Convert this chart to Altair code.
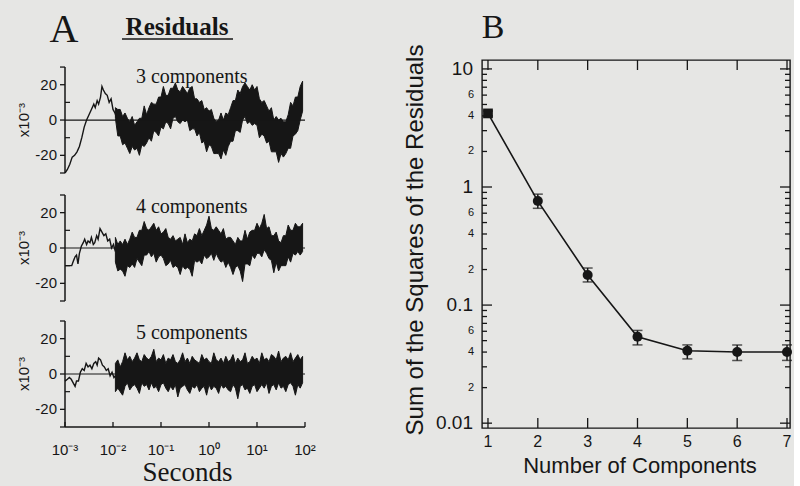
import altair as alt
import pandas as pd

INK = "#161616"
BG = "#e6e6e4"
SERIF = "Liberation Serif"
SANS = "Liberation Sans"

# ---------------- Panel A : residual traces ----------------
# x = log10(seconds), y = residual (x 10^-3)
LT_BAND = [-1.95, -1.9, -1.85, -1.8, -1.75, -1.7, -1.65, -1.6, -1.55, -1.5,
           -1.45, -1.4, -1.35, -1.3, -1.25, -1.2, -1.15, -1.1, -1.05, -1.0,
           -0.95, -0.9, -0.85, -0.8, -0.75, -0.7, -0.65, -0.6, -0.55, -0.5,
           -0.45, -0.4, -0.35, -0.3, -0.25, -0.2, -0.15, -0.1, -0.05, 0.0,
           0.05, 0.1, 0.15, 0.2, 0.25, 0.3, 0.35, 0.4, 0.45, 0.5,
           0.55, 0.6, 0.65, 0.7, 0.75, 0.8, 0.85, 0.9, 0.95, 1.0,
           1.05, 1.1, 1.15, 1.2, 1.25, 1.3, 1.35, 1.4, 1.45, 1.5,
           1.55, 1.6, 1.65, 1.7, 1.75, 1.8, 1.85, 1.9, 1.95]

# 3 components
LT_EARLY_3 = [-3.0, -2.95, -2.9, -2.85, -2.8, -2.75, -2.7, -2.65, -2.6, -2.55,
              -2.5, -2.45, -2.4, -2.37, -2.33, -2.3, -2.26, -2.23, -2.2, -2.16,
              -2.12, -2.08, -2.04, -2.0, -1.96, -1.92, -1.9]
Y_EARLY_3 = [-30, -28, -25, -21, -20, -18, -15, -10, -4, 0,
             3, 6, 9, 7, 11, 9, 13, 19, 17, 15,
             14, 10, 12, 6, 4, 1, -1]
HI_3 = [7, 6, 6, 2, 4, 1, -1, 2, -3, -1, 1,
        1, 8, 3, 7, 10, 9, 9, 13, 13, 19,
        14, 14, 18, 18, 21, 17, 16, 19, 17, 15,
        18, 19, 12, 12, 10, 11, 6, 7, 5, 6,
        1, -1, 0, 4, 0, 4, 3, 7, 11, 11,
        17, 15, 19, 21, 19, 17, 20, 17, 19, 12,
        10, 11, 8, 5, 7, 0, 2, 0, 1, -1,
        -1, 3, 10, 8, 13, 13, 19, 22]
LO_3 = [1, -9, -9, -14, -13, -16, -19, -15, -17, -16, -20,
        -14, -15, -13, -10, -12, -6, -7, -9, -4, -5,
        -1, -2, -5, 1, 2, -1, -2, 0, -1, 0,
        -6, -5, -5, -9, -7, -13, -12, -18, -14, -15,
        -19, -19, -19, -22, -17, -20, -15, -12, -12, -6,
        -6, -7, 0, 2, -2, -1, -3, -2, -3, -10,
        -8, -9, -13, -12, -18, -18, -18, -24, -19, -21,
        -19, -16, -16, -9, -8, -6, 0, 5]

# 4 components
LT_EARLY_4 = [-3.0, -2.95, -2.9, -2.86, -2.82, -2.79, -2.76, -2.73, -2.7, -2.66,
              -2.62, -2.59, -2.55, -2.52, -2.48, -2.45, -2.41, -2.38, -2.34, -2.31,
              -2.27, -2.23, -2.19, -2.15, -2.11, -2.07, -2.03, -1.99, -1.95]
Y_EARLY_4 = [-10, -10, -10, -10, -7, -5, -4, -9, -3, 1,
             3, 5, 2, 4, 3, 6, 2, 3, 7, 5,
             11, 9, 7, 8, 4, 5, 0, 2, -2]
HI_4 = [6, 2, 4, 2, 5, 2, 5, 9, 6, 6,
        10, 10, 15, 11, 10, 12, 14, 10, 12, 8,
        9, 11, 6, 5, 7, 4, 5, 6, 2, 8,
        3, 5, 4, 8, 7, 11, 7, 10, 13, 18,
        11, 10, 12, 10, 8, 11, 5, 6, 6, 4,
        2, 6, 4, 4, 10, 5, 9, 10, 10, 14,
        11, 14, 19, 11, 12, 7, 7, 9, 4, 3,
        7, 7, 13, 10, 10, 14, 12, 12, 14]
LO_4 = [-8, -13, -12, -13, -16, -10, -11, -9, -11, -6,
        -8, -10, -4, -4, -2, -5, -3, -8, -5, -4,
        -6, -10, -9, -7, -11, -10, -11, -15, -10, -12,
        -11, -12, -16, -7, -8, -7, -9, -4, -6, -5,
        -3, -7, -3, -6, -8, -7, -11, -8, -11, -15,
        -11, -10, -13, -19, -9, -9, -10, -4, -6, -3,
        -3, -5, -1, -3, -6, -7, -14, -8, -13, -10,
        -10, -10, -5, -8, -3, -4, -2, -4, -2]

# 5 components
LT_EARLY_5 = [-3.0, -2.95, -2.91, -2.87, -2.83, -2.79, -2.76, -2.72, -2.68, -2.64,
              -2.6, -2.56, -2.52, -2.48, -2.44, -2.4, -2.36, -2.33, -2.3, -2.26,
              -2.22, -2.18, -2.14, -2.1, -2.06, -2.02, -1.98, -1.95]
Y_EARLY_5 = [-4, -3, -2, -3, -5, -7, -4, -4, 1, 3,
             2, 6, 4, 5, 3, 6, 7, 5, 9, 8,
             5, 4, 2, 3, -1, 1, -2, -1]
HI_5 = [6, 8, 4, 7, 12, 8, 10, 7, 9, 12,
        8, 7, 11, 9, 8, 10, 14, 7, 9, 8,
        11, 6, 9, 8, 11, 7, 6, 8, 12, 7,
        9, 6, 10, 8, 7, 6, 11, 8, 9, 7,
        6, 12, 8, 7, 9, 6, 10, 7, 8, 11,
        6, 9, 7, 8, 12, 6, 7, 10, 8, 9,
        6, 12, 8, 9, 7, 11, 10, 8, 13, 7,
        9, 10, 8, 12, 7, 9, 11, 8, 10]
LO_5 = [-10, -8, -10, -12, -7, -5, -9, -7, -6, -8,
        -11, -5, -7, -6, -9, -5, -8, -7, -10, -6,
        -5, -8, -10, -7, -9, -6, -13, -8, -7, -6,
        -9, -11, -7, -8, -6, -10, -8, -7, -12, -6,
        -9, -7, -8, -11, -6, -8, -7, -9, -10, -6,
        -8, -14, -7, -6, -9, -8, -11, -7, -6, -10,
        -8, -6, -8, -5, -11, -7, -6, -9, -5, -8,
        -7, -10, -6, -5, -7, -12, -6, -8, -5]

for arr in (HI_3, LO_3, HI_4, LO_4, HI_5, LO_5):
    assert len(arr) == len(LT_BAND), len(arr)

COMP_LABELS = ["3 components", "4 components", "5 components"]
COMP_LABEL_Y = [21, 20, 20]
COMP_LABEL_LT = -0.36
Y_TICKS_A = [-30, -20, 0, 20, 30]
Y_LABEL_VALUES_A = [-20, 0, 20]
Y_LABEL_TEXT_A = ["-20", "0", "20"]
Y_MINOR_A = [-10, 10]
Y_TITLE_A = "x10\u207b\u00b3"
X_DECADES = [-3, -2, -1, 0, 1, 2]
X_LABELS = ["10\u207b\u00b3", "10\u207b\u00b2", "10\u207b\u00b9", "10\u2070", "10\u00b9", "10\u00b2"]
X_TITLE_A = "Seconds"

# ---------------- Panel B : sum of squares of residuals ----------------
N_COMP = [1, 2, 3, 4, 5, 6, 7]
N_TEXT = ["1", "2", "3", "4", "5", "6", "7"]
SSR = [4.2, 0.76, 0.18, 0.054, 0.041, 0.040, 0.040]
SSR_LO = [4.0, 0.66, 0.157, 0.046, 0.035, 0.034, 0.034]
SSR_HI = [4.4, 0.87, 0.206, 0.061, 0.046, 0.046, 0.046]
LOG_MAJOR = [0.01, 0.1, 1, 10]
LOG_MAJOR_TEXT = ["0.01", "0.1", "1", "10"]
LOG_MINOR = [0.02, 0.03, 0.04, 0.05, 0.06, 0.07, 0.08, 0.09,
             0.2, 0.3, 0.4, 0.5, 0.6, 0.7, 0.8, 0.9,
             2, 3, 4, 5, 6, 7, 8, 9]
LOG_MINOR_LABELED = [0.02, 0.04, 0.06, 0.2, 0.4, 0.6, 2, 4, 6]
LOG_MINOR_TEXT = ["2", "4", "6", "2", "4", "6", "2", "4", "6"]
X_TITLE_B = "Number of Components"
Y_TITLE_B = "Sum of the Squares of the Residuals"

# ---------------- helpers ----------------
W_A = 240


def one_row(**kw):
    return pd.DataFrame({k: [v] for k, v in kw.items()})


def residual_panel(lt_early, y_early, hi, lo, label, label_y, ymax, height, bottom, first):
    xs = alt.Scale(domain=[-3, 2], nice=False, zero=False)
    ys = alt.Scale(domain=[-30, ymax], nice=False, zero=False)
    X = lambda f: alt.X(f, scale=xs, axis=None)
    Y = lambda f: alt.Y(f, scale=ys, axis=None)

    band_df = pd.DataFrame({"lt": LT_BAND, "hi": hi, "lo": lo})
    early_df = pd.DataFrame({"lt": lt_early, "y": y_early})

    zero = alt.Chart(one_row(z=0)).mark_rule(color=INK, strokeWidth=1.2).encode(
        y=Y("z:Q"), x=alt.value(0), x2=alt.value(W_A))
    band = alt.Chart(band_df).mark_area(fill=INK, stroke=INK, strokeWidth=1.0).encode(
        x=X("lt:Q"), y=Y("lo:Q"), y2="hi:Q")
    early = alt.Chart(early_df).mark_line(color=INK, strokeWidth=1.4).encode(
        x=X("lt:Q"), y=Y("y:Q"))
    yline = alt.Chart(one_row(a=-30, b=30)).mark_rule(color=INK, strokeWidth=1.5).encode(
        x=alt.value(0), y=Y("a:Q"), y2="b:Q")
    yticks = alt.Chart(pd.DataFrame({"v": Y_TICKS_A})).mark_rule(color=INK, strokeWidth=1.3).encode(
        y=Y("v:Q"), x=alt.value(-5), x2=alt.value(0))
    yminor = alt.Chart(pd.DataFrame({"v": Y_MINOR_A})).mark_rule(color=INK, strokeWidth=1.2).encode(
        y=Y("v:Q"), x=alt.value(0), x2=alt.value(5))
    ylabels = alt.Chart(pd.DataFrame({"v": Y_LABEL_VALUES_A, "s": Y_LABEL_TEXT_A})).mark_text(
        font=SANS, fontSize=15, color=INK, align="right", baseline="middle").encode(
        y=Y("v:Q"), x=alt.value(-8), text="s:N")
    ytitle = alt.Chart(one_row(v=0, s=Y_TITLE_A)).mark_text(
        font=SANS, fontSize=15, color=INK, align="center", baseline="alphabetic", angle=270).encode(
        y=Y("v:Q"), x=alt.value(-36), text="s:N")
    text = alt.Chart(one_row(lt=COMP_LABEL_LT, y=label_y, s=label)).mark_text(
        font=SERIF, fontSize=20, color=INK, baseline="alphabetic", align="center").encode(
        x=X("lt:Q"), y=Y("y:Q"), text="s:N")

    layers = [band, zero, early, yline, yticks, yminor, ylabels, ytitle, text]
    if bottom:
        xline = alt.Chart(one_row(a=-3, b=2)).mark_rule(color=INK, strokeWidth=1.5).encode(
            x=X("a:Q"), x2="b:Q", y=alt.value(height))
        xt = alt.Chart(pd.DataFrame({"d": X_DECADES})).mark_rule(color=INK, strokeWidth=1.3).encode(
            x=X("d:Q"), y=alt.value(height), y2=alt.value(height - 5))
        xlab = alt.Chart(pd.DataFrame({"d": X_DECADES, "s": X_LABELS})).mark_text(
            font=SANS, fontSize=15, color=INK, align="center", baseline="top").encode(
            x=X("d:Q"), y=alt.value(height + 16), text="s:N")
        xtitle = alt.Chart(one_row(d=-0.45, s=X_TITLE_A)).mark_text(
            font=SERIF, fontSize=27, color=INK, align="center", baseline="alphabetic").encode(
            x=X("d:Q"), y=alt.value(height + 54), text="s:N")
        layers += [xline, xt, xlab, xtitle]
    if first:
        letter = alt.Chart(one_row(s="A")).mark_text(
            font=SERIF, fontSize=40, color=INK, baseline="alphabetic", align="center").encode(
            text="s:N", x=alt.value(-1), y=alt.value(-18))
        title = alt.Chart(one_row(s="Residuals")).mark_text(
            font=SERIF, fontSize=25, fontWeight="bold", color=INK, baseline="alphabetic",
            align="center").encode(text="s:N", x=alt.value(112), y=alt.value(-25))
        uline = alt.Chart(one_row(s="u")).mark_rule(color=INK, strokeWidth=1.5).encode(
            x=alt.value(57), x2=alt.value(168), y=alt.value(-21))
        layers += [letter, title, uline]
    return alt.layer(*layers).properties(width=W_A, height=height)


p1 = residual_panel(LT_EARLY_3, Y_EARLY_3, HI_3, LO_3, COMP_LABELS[0], COMP_LABEL_Y[0], 34, 113, False, True)
p2 = residual_panel(LT_EARLY_4, Y_EARLY_4, HI_4, LO_4, COMP_LABELS[1], COMP_LABEL_Y[1], 30, 106, False, False)
p3 = residual_panel(LT_EARLY_5, Y_EARLY_5, HI_5, LO_5, COMP_LABELS[2], COMP_LABEL_Y[2], 30, 106, True, False)
panel_a = alt.vconcat(p1, p2, p3, spacing=16)

# ---------------- build panel B ----------------
W_B, H_B = 308, 368
xsB = alt.Scale(domain=[0.88, 7.06], nice=False, zero=False)
ysB = alt.Scale(type="log", domain=[0.0091, 11.9], nice=False)
XB = lambda f: alt.X(f, scale=xsB, axis=None)
YB = lambda f: alt.Y(f, scale=ysB, axis=None)
dfB = pd.DataFrame({"n": N_COMP, "ssr": SSR, "lo": SSR_LO, "hi": SSR_HI})

baseB = alt.Chart(dfB)
lineB = baseB.mark_line(color=INK, strokeWidth=1.6).encode(x=XB("n:Q"), y=YB("ssr:Q"))
errB = baseB.mark_rule(color=INK, strokeWidth=1.5).encode(x=XB("n:Q"), y=YB("lo:Q"), y2="hi:Q")
capLo = baseB.mark_tick(color=INK, orient="horizontal", size=10, thickness=1.5).encode(
    x=XB("n:Q"), y=YB("lo:Q"))
capHi = baseB.mark_tick(color=INK, orient="horizontal", size=10, thickness=1.5).encode(
    x=XB("n:Q"), y=YB("hi:Q"))
circB = baseB.transform_filter("datum.n > 1").mark_circle(color=INK, size=100, opacity=1).encode(
    x=XB("n:Q"), y=YB("ssr:Q"))
sqB = baseB.transform_filter("datum.n == 1").mark_square(color=INK, size=95, opacity=1).encode(
    x=XB("n:Q"), y=YB("ssr:Q"))

maj_df = pd.DataFrame({"v": LOG_MAJOR, "s": LOG_MAJOR_TEXT})
min_df = pd.DataFrame({"v": LOG_MINOR})
minlab_df = pd.DataFrame({"v": LOG_MINOR_LABELED, "s": LOG_MINOR_TEXT})
n_df = pd.DataFrame({"n": N_COMP, "s": N_TEXT})


def ytick(df, x0, x1):
    return alt.Chart(df).mark_rule(color=INK, strokeWidth=1.3).encode(
        y=YB("v:Q"), x=alt.value(x0), x2=alt.value(x1))


def xtick(y0, y1):
    return alt.Chart(n_df).mark_rule(color=INK, strokeWidth=1.3).encode(
        x=XB("n:Q"), y=alt.value(y0), y2=alt.value(y1))


ylabMaj = alt.Chart(maj_df).mark_text(font=SANS, fontSize=19, color=INK, align="right",
                                      baseline="middle").encode(
    y=YB("v:Q"), x=alt.value(-9), text="s:N")
ylabMin = alt.Chart(minlab_df).mark_text(font=SANS, fontSize=11, color=INK, align="right",
                                         baseline="middle").encode(
    y=YB("v:Q"), x=alt.value(-8), text="s:N")
xlabB = alt.Chart(n_df).mark_text(font=SANS, fontSize=16, color=INK, align="center",
                                  baseline="top").encode(
    x=XB("n:Q"), y=alt.value(H_B + 6), text="s:N")
xtitleB = alt.Chart(one_row(s=X_TITLE_B)).mark_text(
    font=SANS, fontSize=22, color=INK, align="center", baseline="alphabetic").encode(
    x=alt.value(W_B / 2 + 4), y=alt.value(H_B + 45), text="s:N")
ytitleB = alt.Chart(one_row(s=Y_TITLE_B)).mark_text(
    font=SANS, fontSize=24, color=INK, align="center", baseline="alphabetic", angle=270).encode(
    x=alt.value(-59), y=alt.value(H_B / 2 - 4), text="s:N")
letterB = alt.Chart(one_row(s="B")).mark_text(
    font=SERIF, fontSize=34, color=INK, baseline="alphabetic", align="center").encode(
    text="s:N", x=alt.value(11), y=alt.value(-22))

panel_b = alt.layer(
    lineB, errB, capLo, capHi, circB, sqB,
    ytick(maj_df, 0, 10), ytick(min_df, 0, 5),
    ytick(maj_df, W_B - 10, W_B), ytick(min_df, W_B - 5, W_B),
    xtick(H_B, H_B - 10), xtick(0, 10),
    ylabMaj, ylabMin, xlabB, xtitleB, ytitleB, letterB,
).properties(width=W_B, height=H_B,
             view=alt.ViewBackground(stroke=INK, strokeWidth=1.4))

chart = alt.hconcat(panel_a, panel_b, spacing=86).properties(
    padding={"left": 16, "top": 9, "right": 1, "bottom": 2},
    background=BG,
).configure_view(stroke="transparent")

chart.save("out.html", embed_options={"renderer": "svg", "actions": False})
